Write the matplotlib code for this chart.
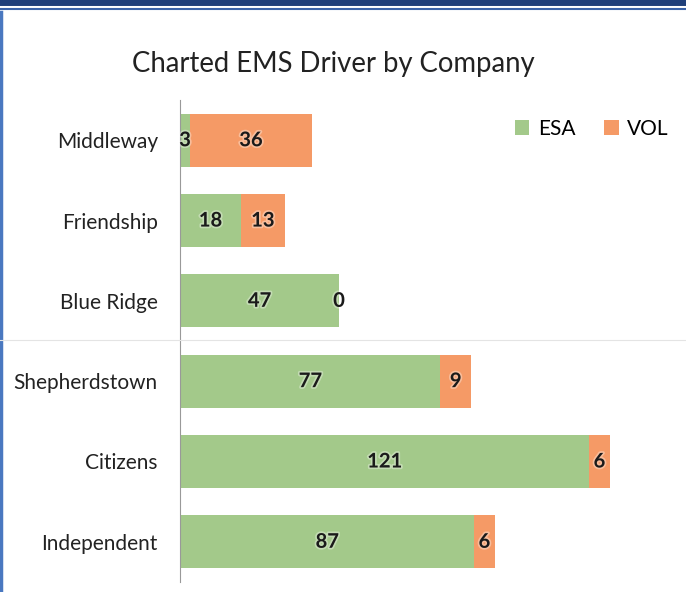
import matplotlib.pyplot as plt
import matplotlib.patheffects as pe
from matplotlib.lines import Line2D

companies = ["Middleway", "Friendship", "Blue Ridge", "Shepherdstown", "Citizens", "Independent"]
esa = [3, 18, 47, 77, 121, 87]
vol = [36, 13, 0, 9, 6, 6]

green = "#a3c98a"
orange = "#f59a66"
font = "Lato"

fig = plt.figure(figsize=(6.86, 5.92), dpi=100)
ax = fig.add_axes([0.2624, 0.017, 0.715, 0.814])

y = list(range(len(companies)))
ax.barh(y, esa, height=0.66, color=green, label="ESA")
ax.barh(y, vol, left=esa, height=0.66, color=orange, label="VOL")

glow = [pe.withStroke(linewidth=2.5, foreground="white", alpha=0.35)]
for i in y:
    ax.text(esa[i] / 2, i, str(esa[i]), ha="center", va="center", fontsize=14.5,
            fontweight="bold", color="#1a1a1a", family=font, path_effects=glow)
    ax.text(esa[i] + vol[i] / 2, i, str(vol[i]), ha="center", va="center", fontsize=14.5,
            fontweight="bold", color="#1a1a1a", family=font, path_effects=glow)

ax.set_ylim(len(companies) - 0.5, -0.5)
ax.set_xlim(0, 145)
ax.set_yticks(y)
ax.set_yticklabels(companies, fontsize=15, family=font, color="#222222")
ax.tick_params(axis="y", length=0, pad=16)
ax.set_xticks([])
for s in ["top", "right", "bottom"]:
    ax.spines[s].set_visible(False)
ax.spines["left"].set_color("#999999")
ax.spines["left"].set_linewidth(0.8)

leg = ax.legend(loc="upper right", bbox_to_anchor=(1.035, 1.0), ncol=2, frameon=False,
                prop={"family": font, "size": 15}, handlelength=0.7, handleheight=0.7,
                handletextpad=0.4, columnspacing=1.4)

fig.text(0.486, 0.892, "Charted EMS Driver by Company", ha="center", va="center",
         fontsize=19.8, family=font, color="#222222")

# slide frame
fig.add_artist(Line2D([0, 1], [0.997, 0.997], color="#1f3f7a", linewidth=5, transform=fig.transFigure))
fig.add_artist(Line2D([0, 1], [0.984, 0.984], color="#3b63a8", linewidth=1.5, transform=fig.transFigure))
fig.add_artist(Line2D([0.002, 0.002], [0, 0.98], color="#4a78c0", linewidth=2.5, transform=fig.transFigure))
fig.add_artist(Line2D([0, 1], [0.426, 0.426], color="#e4e4e4", linewidth=0.8, transform=fig.transFigure))

fig.savefig("out.png", dpi=100)
